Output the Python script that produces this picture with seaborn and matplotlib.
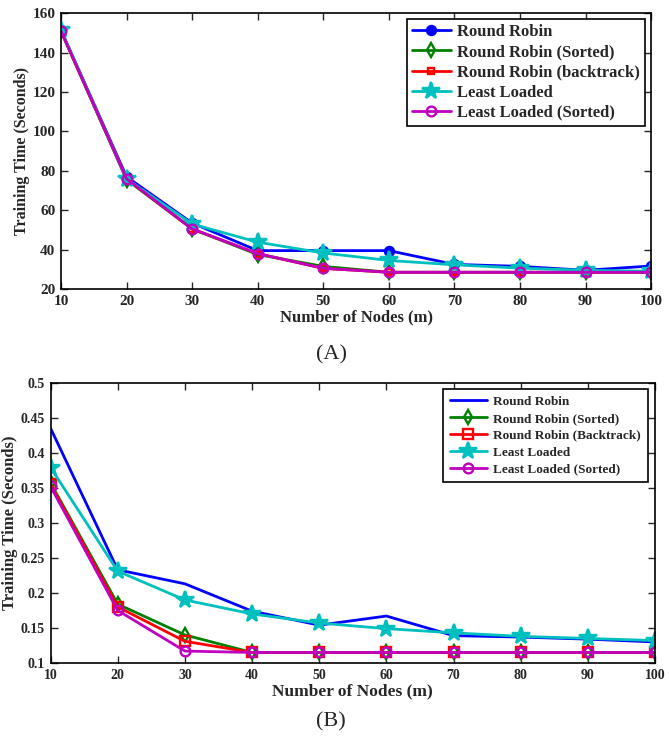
import matplotlib
matplotlib.use("Agg")
import matplotlib.pyplot as plt
import seaborn as sns
import pandas as pd

nodes = [10, 20, 30, 40, 50, 60, 70, 80, 90, 100]

# Chart (A)
a_rr = [151.5, 77, 53.5, 39.5, 39.5, 39.5, 32.5, 31.5, 29.5, 31.7]
a_rr_sorted = [151, 75.5, 50.5, 37.5, 31.5, 28.5, 28.5, 28.5, 28.5, 28.5]
a_rr_back = [151, 76, 50.5, 38, 30.5, 28.5, 28.5, 28.5, 28.5, 28.5]
a_ll = [151.5, 76, 53, 43.8, 38.3, 34.5, 32.3, 30.6, 29.5, 29]
a_ll_sorted = [151, 76, 50.5, 38, 30.5, 28.5, 28.5, 28.5, 28.5, 28.5]

# Chart (B)
b_rr = [0.435, 0.233, 0.213, 0.174, 0.154, 0.167, 0.139, 0.137, 0.134, 0.130]
b_rr_sorted = [0.357, 0.184, 0.140, 0.115, 0.115, 0.115, 0.115, 0.115, 0.115, 0.115]
b_rr_back = [0.355, 0.180, 0.131, 0.115, 0.115, 0.115, 0.115, 0.115, 0.115, 0.115]
b_ll = [0.379, 0.231, 0.190, 0.170, 0.157, 0.149, 0.143, 0.138, 0.135, 0.132]
b_ll_sorted = [0.352, 0.175, 0.117, 0.115, 0.115, 0.115, 0.115, 0.115, 0.115, 0.115]

labels_a = ["Round Robin", "Round Robin (Sorted)", "Round Robin (backtrack)",
            "Least Loaded", "Least Loaded (Sorted)"]
labels_b = ["Round Robin", "Round Robin (Sorted)", "Round Robin (Backtrack)",
            "Least Loaded", "Least Loaded (Sorted)"]

sns.set_style("ticks")
plt.rcParams['font.family'] = ['Liberation Serif', 'DejaVu Serif']
plt.rcParams['font.weight'] = 'bold'
plt.rcParams['axes.labelweight'] = 'bold'

fig = plt.figure(figsize=(6.69, 7.42), dpi=100)
axA = fig.add_axes([0.0912, 0.6105, 0.882, 0.3715])
axB = fig.add_axes([0.0756, 0.1065, 0.9035, 0.3777])

colors = ["#0000ff", "#008000", "#ff0000", "#00bfbf", "#bf00bf"]


def draw(ax, series, labels, styles):
    for vals, lab, col, st in zip(series, labels, colors, styles):
        df = pd.DataFrame({"x": nodes, "y": vals})
        kw = dict(marker=st[0], markersize=st[1], markeredgewidth=1.7,
                  markerfacecolor=(col if st[2] else 'none'), markeredgecolor=col)
        if st[0] is None:
            kw = {}
        sns.lineplot(data=df, x="x", y="y", ax=ax, color=col, linewidth=2.0,
                     label=lab, **kw)


stylesA = [('o', 6.5, True), ('d', 7, False), ('s', 5, False), ('*', 13, True), ('o', 7, False)]
stylesB = [(None, 0, True), ('d', 7, False), ('s', 7, False), ('*', 13, True), ('o', 7, False)]

draw(axA, [a_rr, a_rr_sorted, a_rr_back, a_ll, a_ll_sorted], labels_a, stylesA)
draw(axB, [b_rr, b_rr_sorted, b_rr_back, b_ll, b_ll_sorted], labels_b, stylesB)

for ax, ylim, yticks, fs, lfs, yfmt in [
        (axA, (20, 160), list(range(20, 161, 20)), 11, 11.5, None),
        (axB, (0.1, 0.5), [0.1, 0.15, 0.2, 0.25, 0.3, 0.35, 0.4, 0.45, 0.5], 10, 12, 'g')]:
    ax.set_xlim(10, 100)
    ax.set_ylim(*ylim)
    ax.set_xticks(nodes)
    ax.set_yticks(yticks)
    if yfmt:
        ax.set_yticklabels([f"{v:g}" for v in yticks])
    ax.tick_params(direction='in', top=True, right=True, length=5, width=1,
                   labelsize=fs, pad=4)
    for lab in ax.get_xticklabels() + ax.get_yticklabels():
        lab.set_fontweight('bold')
    for s in ax.spines.values():
        s.set_visible(True)
        s.set_linewidth(1.2)
        s.set_color('black')
    ax.set_xlabel("Number of Nodes (m)", fontsize=lfs + 0.5, fontweight='bold', labelpad=1)
    ax.set_ylabel("Training Time (Seconds)", fontsize=lfs, fontweight='bold', labelpad=2)

legA = axA.legend(loc='upper right', bbox_to_anchor=(0.99, 0.979),
                  frameon=True, fancybox=False, edgecolor='black', framealpha=1,
                  handlelength=2.3, borderpad=0.3, labelspacing=0.25, handletextpad=0.4,
                  borderaxespad=0, prop={'weight': 'bold', 'size': 12})
legA.get_frame().set_linewidth(1.2)
legB = axB.legend(loc='upper right', bbox_to_anchor=(0.988, 0.977),
                  frameon=True, fancybox=False, edgecolor='black', framealpha=1,
                  handlelength=2.8, borderpad=0.5, labelspacing=0.35, handletextpad=0.5,
                  borderaxespad=0, prop={'weight': 'bold', 'size': 9.5})
legB.get_frame().set_linewidth(1.2)

fig.text(0.495, 1 - 355 / 742, "(A)", ha='center', va='center', fontsize=16, fontweight='normal')
fig.text(0.495, 1 - 722 / 742, "(B)", ha='center', va='center', fontsize=16, fontweight='normal')

fig.savefig("out.png", dpi=100)
